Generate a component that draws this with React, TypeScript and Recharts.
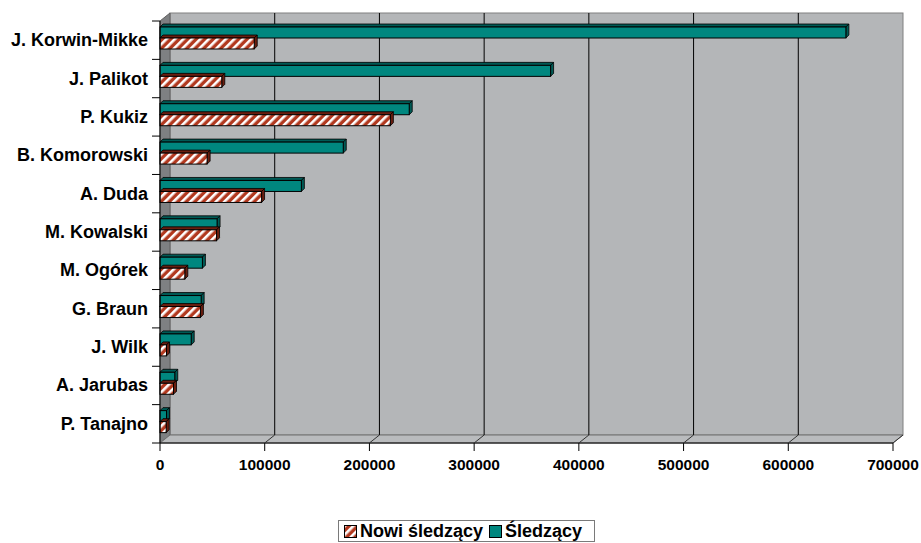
import React from "react";
import { BarChart, Bar, XAxis, YAxis, CartesianGrid, ReferenceArea } from "recharts";

const candidates = [
  "J. Korwin-Mikke",
  "J. Palikot",
  "P. Kukiz",
  "B. Komorowski",
  "A. Duda",
  "M. Kowalski",
  "M. Ogórek",
  "G. Braun",
  "J. Wilk",
  "A. Jarubas",
  "P. Tanajno",
];
const followers = [655000, 373000, 238000, 175000, 135000, 54500, 40500, 39300, 29800, 14100, 6200];
const newFollowers = [90000, 59000, 220000, 45000, 97000, 54000, 23700, 38600, 6200, 12900, 5900];
const valueTicks = [0, 100000, 200000, 300000, 400000, 500000, 600000, 700000];
const seriesNames = ["Nowi śledzący", "Śledzący"];

const data = candidates.map((name, i) => ({
  name,
  followers: followers[i],
  newFollowers: newFollowers[i],
}));

const FONT = '"Liberation Sans", Arial, sans-serif';
const TEAL = "#00877f";
const TEAL_DARK = "#005a55";
const RUST = "#b2391f";
const RUST_DARK = "#6a1e0f";
const DX = 10;
const DY = 8;

// thin Excel-style 3D box for each bar
function Bar3D(props: any) {
  const { x, y, width, height, fill, side } = props;
  if (x == null || !height) return null;
  const d = 3;
  const t = y - 2;
  const w = Math.max(width, 0);
  return (
    <g>
      <polygon
        points={`${x},${t} ${x + d},${t - d} ${x + w + d},${t - d} ${x + w},${t}`}
        fill={side}
        stroke="#000"
        strokeWidth={0.8}
      />
      <polygon
        points={`${x + w},${t} ${x + w + d},${t - d} ${x + w + d},${t + height - d} ${x + w},${t + height}`}
        fill={side}
        stroke="#000"
        strokeWidth={0.8}
      />
      <rect x={x} y={t} width={w} height={height} fill={fill} stroke="#000" strokeWidth={1} />
    </g>
  );
}

// back wall, left wall and floor around the plot area
function Walls(props: any) {
  const { x, y, width, height } = props;
  if (x == null) return null;
  const b = y + height;
  return (
    <g>
      <rect x={x + DX} y={y - DY} width={width} height={height} fill="#b4b6b8" stroke="#808080" />
      <polygon
        points={`${x},${y} ${x + DX},${y - DY} ${x + DX},${b - DY} ${x},${b}`}
        fill="#7e8082"
        stroke="#606060"
      />
      <polygon
        points={`${x},${b} ${x + DX},${b - DY} ${x + width + DX},${b - DY} ${x + width},${b}`}
        fill="#b9bbbd"
        stroke="#707070"
      />
    </g>
  );
}

function GridLine(props: any) {
  const { x1, y1, x2, y2, index } = props;
  if (index === 0 || index === valueTicks.length - 1) return <g key={props.key} />;
  return <line key={props.key} x1={x1 + DX} x2={x2 + DX} y1={y1 - DY} y2={y2 - DY} stroke="#000" strokeWidth={1} />;
}

function CategoryTick(props: any) {
  const { x, y, payload, index } = props;
  const half = payload.offset ?? 19;
  const ax = x + 12;
  return (
    <g>
      <line x1={ax - 8} x2={ax} y1={y - half} y2={y - half} stroke="#000" />
      {index === candidates.length - 1 ? (
        <line x1={ax - 8} x2={ax} y1={y + half} y2={y + half} stroke="#000" />
      ) : null}
      <text
        x={x}
        y={y + 6}
        textAnchor="end"
        fontFamily={FONT}
        fontWeight={700}
        fontSize={18}
        fill="#000"
      >
        {payload.value}
      </text>
    </g>
  );
}

function ValueTick(props: any) {
  const { x, y, payload } = props;
  const ay = y - 10;
  return (
    <g>
      {payload.value > 0 ? (
        <line x1={x} y1={ay} x2={x + DX} y2={ay - DY} stroke="#333" />
      ) : null}
      <text
        x={x}
        y={y + 17}
        textAnchor="middle"
        fontFamily={FONT}
        fontWeight={700}
        fontSize={15.5}
        fill="#000"
      >
        {payload.value}
      </text>
    </g>
  );
}

function LegendBox() {
  return (
    <div
      style={{
        position: "absolute",
        left: 338,
        top: 520,
        width: 257,
        height: 22,
        border: "1px solid #7a7a7a",
        background: "#fff",
        display: "flex",
        alignItems: "center",
        fontFamily: FONT,
        fontWeight: 700,
        fontSize: 18,
        color: "#000",
        boxSizing: "border-box",
        paddingLeft: 5,
        whiteSpace: "nowrap",
      }}
    >
      <svg width={13} height={13} style={{ marginRight: 3 }}>
        <defs>
          <pattern id="hatchLegend" width={6} height={6} patternUnits="userSpaceOnUse" patternTransform="rotate(45)">
            <rect width={6} height={6} fill={RUST} />
            <rect width={2.6} height={6} fill="#fff" />
          </pattern>
        </defs>
        <rect x={0.5} y={0.5} width={12} height={12} fill="url(#hatchLegend)" stroke="#000" />
      </svg>
      <span>{seriesNames[0]}</span>
      <svg width={13} height={13} style={{ marginLeft: 6, marginRight: 3 }}>
        <rect x={0.5} y={0.5} width={12} height={12} fill={TEAL} stroke="#000" />
      </svg>
      <span>{seriesNames[1]}</span>
    </div>
  );
}

export default function App() {
  return (
    <div style={{ position: "absolute", left: 0, top: 0, width: 921, height: 543, background: "#fff" }}>
      <BarChart
        width={921}
        height={543}
        data={data}
        layout="vertical"
        margin={{ top: 21, right: 28, left: 0, bottom: 70 }}
        barGap={0}
        barSize={11}
      >
        <defs>
          <pattern id="hatch" width={6} height={6} patternUnits="userSpaceOnUse" patternTransform="rotate(45)">
            <rect width={6} height={6} fill={RUST} />
            <rect width={2.6} height={6} fill="#fff" />
          </pattern>
        </defs>
        <ReferenceArea x1={0} x2={700000} shape={<Walls />} zIndex={-200} ifOverflow="visible" />
        <CartesianGrid horizontal={false} vertical={(p: any) => <GridLine {...p} />} />
        <XAxis
          type="number"
          domain={[0, 700000]}
          ticks={valueTicks}
          interval={0}
          height={30}
          tickSize={8}
          axisLine={{ stroke: "#000" }}
          tickLine={{ stroke: "#000" }}
          tick={<ValueTick />}
        />
        <YAxis
          type="category"
          dataKey="name"
          width={160}
          tickSize={8}
          tickMargin={4}
          interval={0}
          axisLine={{ stroke: "#000" }}
          tickLine={false}
          tick={<CategoryTick />}
        />
        <Bar
          dataKey="followers"
          name={seriesNames[1]}
          fill={TEAL}
          isAnimationActive={false}
          shape={(p: any) => <Bar3D {...p} side={TEAL_DARK} />}
        />
        <Bar
          dataKey="newFollowers"
          name={seriesNames[0]}
          fill="url(#hatch)"
          isAnimationActive={false}
          shape={(p: any) => <Bar3D {...p} side={RUST_DARK} />}
        />
      </BarChart>
      <LegendBox />
    </div>
  );
}
